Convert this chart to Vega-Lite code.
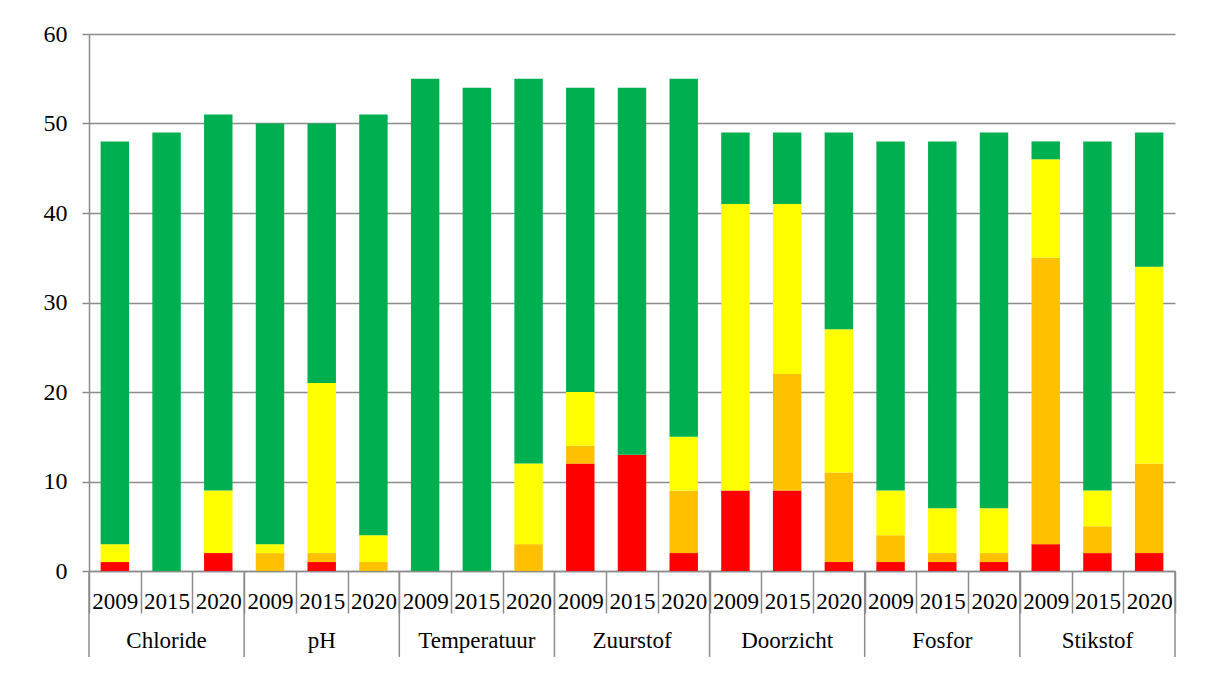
{
  "$schema": "https://vega.github.io/schema/vega-lite/v6.json",
  "autosize": {"type": "none"},
  "width": 1086,
  "height": 537,
  "padding": {"left": 89, "top": 34, "right": 38, "bottom": 122},
  "background": "white",
  "config": {"view": {"stroke": null}, "font": "Liberation Serif"},
  "datasets": {
    "main": [
      {"key": "Chloride|2009", "slecht": 1, "ontoereikend": 0, "matig": 2, "goed": 45},
      {"key": "Chloride|2015", "slecht": 0, "ontoereikend": 0, "matig": 0, "goed": 49},
      {"key": "Chloride|2020", "slecht": 2, "ontoereikend": 0, "matig": 7, "goed": 42},
      {"key": "pH|2009", "slecht": 0, "ontoereikend": 2, "matig": 1, "goed": 47},
      {"key": "pH|2015", "slecht": 1, "ontoereikend": 1, "matig": 19, "goed": 29},
      {"key": "pH|2020", "slecht": 0, "ontoereikend": 1, "matig": 3, "goed": 47},
      {"key": "Temperatuur|2009", "slecht": 0, "ontoereikend": 0, "matig": 0, "goed": 55},
      {"key": "Temperatuur|2015", "slecht": 0, "ontoereikend": 0, "matig": 0, "goed": 54},
      {"key": "Temperatuur|2020", "slecht": 0, "ontoereikend": 3, "matig": 9, "goed": 43},
      {"key": "Zuurstof|2009", "slecht": 12, "ontoereikend": 2, "matig": 6, "goed": 34},
      {"key": "Zuurstof|2015", "slecht": 13, "ontoereikend": 0, "matig": 0, "goed": 41},
      {"key": "Zuurstof|2020", "slecht": 2, "ontoereikend": 7, "matig": 6, "goed": 40},
      {"key": "Doorzicht|2009", "slecht": 9, "ontoereikend": 0, "matig": 32, "goed": 8},
      {"key": "Doorzicht|2015", "slecht": 9, "ontoereikend": 13, "matig": 19, "goed": 8},
      {"key": "Doorzicht|2020", "slecht": 1, "ontoereikend": 10, "matig": 16, "goed": 22},
      {"key": "Fosfor|2009", "slecht": 1, "ontoereikend": 3, "matig": 5, "goed": 39},
      {"key": "Fosfor|2015", "slecht": 1, "ontoereikend": 1, "matig": 5, "goed": 41},
      {"key": "Fosfor|2020", "slecht": 1, "ontoereikend": 1, "matig": 5, "goed": 42},
      {"key": "Stikstof|2009", "slecht": 3, "ontoereikend": 32, "matig": 11, "goed": 2},
      {"key": "Stikstof|2015", "slecht": 2, "ontoereikend": 3, "matig": 4, "goed": 39},
      {"key": "Stikstof|2020", "slecht": 2, "ontoereikend": 10, "matig": 22, "goed": 15}
    ],
    "cats": [
      {"key": "Chloride|2015", "first": "Chloride|2009", "cat": "Chloride"},
      {"key": "pH|2015", "first": "pH|2009", "cat": "pH"},
      {"key": "Temperatuur|2015", "first": "Temperatuur|2009", "cat": "Temperatuur"},
      {"key": "Zuurstof|2015", "first": "Zuurstof|2009", "cat": "Zuurstof"},
      {"key": "Doorzicht|2015", "first": "Doorzicht|2009", "cat": "Doorzicht"},
      {"key": "Fosfor|2015", "first": "Fosfor|2009", "cat": "Fosfor"},
      {"key": "Stikstof|2015", "first": "Stikstof|2009", "cat": "Stikstof"}
    ]
  },
  "layer": [
    {
      "data": {"name": "main"},
      "transform": [{"fold": ["slecht", "ontoereikend", "matig", "goed"], "as": ["status", "n"]}],
      "mark": {"type": "bar", "width": {"band": 0.55}},
      "encoding": {
        "x": {
          "field": "key",
          "type": "nominal",
          "title": null,
          "scale": {
            "domain": ["Chloride|2009", "Chloride|2015", "Chloride|2020", "pH|2009", "pH|2015", "pH|2020", "Temperatuur|2009", "Temperatuur|2015", "Temperatuur|2020", "Zuurstof|2009", "Zuurstof|2015", "Zuurstof|2020", "Doorzicht|2009", "Doorzicht|2015", "Doorzicht|2020", "Fosfor|2009", "Fosfor|2015", "Fosfor|2020", "Stikstof|2009", "Stikstof|2015", "Stikstof|2020"],
            "paddingInner": 0,
            "paddingOuter": 0
          },
          "axis": {
            "title": null,
            "labelExpr": "split(datum.label, '|')[1]",
            "labelAngle": 0,
            "labelOverlap": false,
            "tickBand": "extent",
            "tickSize": 42,
            "tickColor": "#8c8c8c",
            "tickWidth": 1.5,
            "domainColor": "#8c8c8c",
            "domainWidth": 1.5,
            "labelFont": "Liberation Serif",
            "labelFontSize": 23,
            "labelColor": "black",
            "labelPadding": -23,
            "grid": false
          }
        },
        "y": {
          "field": "n",
          "type": "quantitative",
          "stack": "zero",
          "title": null,
          "scale": {"domain": [0, 60], "nice": false},
          "axis": {
            "title": null,
            "values": [0, 10, 20, 30, 40, 50, 60],
            "grid": true,
            "gridColor": "#8c8c8c",
            "gridWidth": 1.5,
            "domainColor": "#8c8c8c",
            "domainWidth": 1.5,
            "tickColor": "#8c8c8c",
            "tickWidth": 1.5,
            "tickSize": 7,
            "labelFont": "Liberation Serif",
            "labelFontSize": 24,
            "labelColor": "black",
            "labelPadding": 15
          }
        },
        "color": {
          "field": "status",
          "type": "nominal",
          "scale": {"domain": ["slecht", "ontoereikend", "matig", "goed"], "range": ["#FF0000", "#FFC000", "#FFFF00", "#00B050"]},
          "legend": null
        },
        "order": {"field": "status", "sort": "descending"}
      }
    },
    {
      "data": {"name": "cats"},
      "mark": {"type": "text", "font": "Liberation Serif", "fontSize": 23, "baseline": "alphabetic", "color": "black"},
      "encoding": {
        "x": {"field": "key", "type": "nominal"},
        "y": {"datum": -8.6, "type": "quantitative"},
        "text": {"field": "cat"}
      }
    },
    {
      "data": {"name": "cats"},
      "mark": {"type": "rule", "color": "#8c8c8c", "strokeWidth": 1.5},
      "encoding": {
        "x": {"field": "first", "type": "nominal", "bandPosition": 0},
        "y": {"datum": 0, "type": "quantitative"},
        "y2": {"datum": -9.6}
      }
    },
    {
      "data": {"values": [{"last": "Stikstof|2020"}]},
      "mark": {"type": "rule", "color": "#8c8c8c", "strokeWidth": 1.5},
      "encoding": {
        "x": {"field": "last", "type": "nominal", "bandPosition": 1},
        "y": {"datum": 0, "type": "quantitative"},
        "y2": {"datum": -9.6}
      }
    }
  ]
}
